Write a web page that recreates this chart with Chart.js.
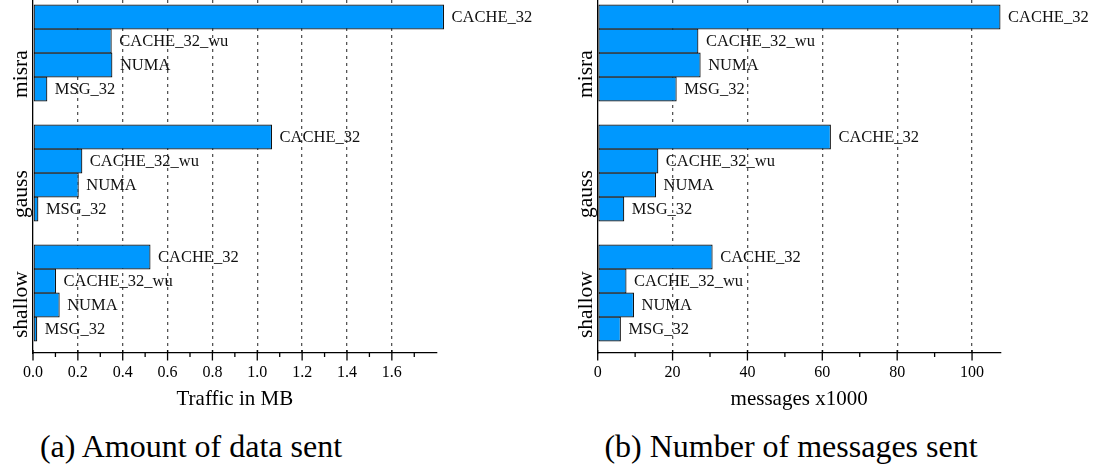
<!DOCTYPE html>
<html>
<head>
<meta charset="utf-8">
<script src="https://cdn.jsdelivr.net/npm/chart.js@4.4.0/dist/chart.umd.min.js"></script>
<style>
  body { margin: 0; background: #fff; width: 1099px; height: 466px; overflow: hidden; position: relative;
         font-family: 'Liberation Serif', 'Times New Roman', serif; }
  canvas { position: absolute; top: -7px; }
  #chartA { left: 0; }
  #chartB { left: 560px; }
  .caption { position: absolute; top: 430px; font-size: 32px; line-height: 1; white-space: nowrap;
             transform: translateX(-50%); color: #000; }
</style>
</head>
<body>
<canvas id="chartA" width="560" height="420"></canvas>
<canvas id="chartB" width="539" height="420"></canvas>
<div class="caption" style="left:191px">(a) Amount of data sent</div>
<div class="caption" style="left:791px">(b) Number of messages sent</div>
<script>
const categories = ['misra', 'gauss', 'shallow'];
const seriesNames = ['CACHE_32', 'CACHE_32_wu', 'NUMA', 'MSG_32'];

// traffic in MB (misra, gauss, shallow)
const trafficCache32 = [1.833, 1.066, 0.524];
const trafficCache32wu = [0.351, 0.220, 0.103];
const trafficNuma = [0.354, 0.204, 0.119];
const trafficMsg32 = [0.064, 0.024, 0.019];

// messages x1000 (misra, gauss, shallow)
const msgCache32 = [107.6, 62.3, 30.7];
const msgCache32wu = [26.9, 16.2, 7.7];
const msgNuma = [27.5, 15.6, 9.7];
const msgMsg32 = [21.1, 7.1, 6.2];

const trafficTicks = { max: 1.8, minor: 0.1, major: 0.2 };
const msgTicks = { max: 107.6, minor: 10, major: 20 };

Chart.defaults.font.family = "'Liberation Serif', 'Times New Roman', serif";
Chart.defaults.color = '#000';

const barColor = '#0098fe';

function isMajor(v, step) {
    const r = v / step;
    return Math.abs(r - Math.round(r)) < 1e-6;
}

const decorations = {
    id: 'decorations',
    afterDatasetsDraw(chart, args, opts) {
        const ctx = chart.ctx;
        const xs = chart.scales.x;
        const ys = chart.scales.y;
        const area = chart.chartArea;
        ctx.save();

        // series names next to each bar
        ctx.fillStyle = '#111';
        ctx.font = "16.5px 'Liberation Serif'";
        ctx.textAlign = 'left';
        ctx.textBaseline = 'middle';
        chart.data.datasets.forEach((ds, i) => {
            chart.getDatasetMeta(i).data.forEach(bar => {
                ctx.fillText(ds.label, bar.x + 7.5, bar.y + 1);
            });
        });

        // tick marks on the value axis
        ctx.strokeStyle = '#000';
        ctx.lineWidth = 1.3;
        xs.ticks.forEach(t => {
            if (t.value > opts.max - 1e-6) return;
            const px = xs.getPixelForValue(t.value);
            const major = isMajor(t.value, opts.major);
            ctx.beginPath();
            ctx.moveTo(px, area.bottom - (major ? 3 : 0));
            ctx.lineTo(px, area.bottom + (major ? 7.5 : 4));
            ctx.stroke();
        });

        // rotated group names
        ctx.fillStyle = '#000';
        ctx.font = "21.5px 'Liberation Serif'";
        ctx.textBaseline = 'alphabetic';
        const slot = (area.bottom - area.top) / categories.length;
        categories.forEach((name, i) => {
            const cy = ys.getPixelForValue(i);
            ctx.save();
            ctx.translate(area.left - 6, cy + slot * 0.4 - 3);
            ctx.rotate(-Math.PI / 2);
            ctx.fillText(name, 0, 0);
            ctx.restore();
        });
        ctx.restore();
    }
};

function makeChart(id, series, tickCfg, axisTitle, yWidth, padRight, fmt) {
    return new Chart(document.getElementById(id), {
        type: 'bar',
        data: {
            labels: categories,
            datasets: series.map((values, i) => ({
                label: seriesNames[i],
                data: values,
                backgroundColor: barColor,
                borderColor: '#111',
                borderWidth: 1.2,
                borderSkipped: false,
                barPercentage: 1.04,
                categoryPercentage: 0.8,
                clip: false
            }))
        },
        options: {
            indexAxis: 'y',
            responsive: false,
            animation: false,
            devicePixelRatio: 1,
            layout: { padding: { top: 0, right: padRight, bottom: 0, left: 0 } },
            plugins: {
                legend: { display: false },
                tooltip: { enabled: false },
                decorations: tickCfg
            },
            scales: {
                x: {
                    type: 'linear',
                    min: 0,
                    max: tickCfg.max,
                    ticks: {
                        stepSize: tickCfg.minor,
                        autoSkip: false,
                        maxRotation: 0,
                        includeBounds: false,
                        padding: 9.7,
                        font: { size: 16 },
                        color: '#000',
                        callback: v => (isMajor(v, tickCfg.major) && v < tickCfg.max - 1e-6) ? fmt(v) : ''
                    },
                    grid: {
                        drawTicks: false,
                        lineWidth: 1.3,
                        color: c => {
                            const v = c.tick ? c.tick.value : 0;
                            return (v > 0 && v < tickCfg.max - 1e-6 && isMajor(v, tickCfg.major)) ? '#555' : 'rgba(0,0,0,0)';
                        }
                    },
                    border: { display: true, color: '#000', width: 1.3, dash: [3, 4] },
                    title: { display: true, text: axisTitle, font: { size: 21 }, color: '#000', padding: { top: 0, bottom: 1 } },
                    afterFit: s => { s.height = 60; }
                },
                y: {
                    type: 'category',
                    ticks: { display: false },
                    grid: { display: false },
                    border: { display: true, color: '#000', width: 1.3 },
                    afterFit: s => { s.width = yWidth; }
                }
            }
        },
        plugins: [decorations]
    });
}

makeChart('chartA', [trafficCache32, trafficCache32wu, trafficNuma, trafficMsg32],
    trafficTicks, 'Traffic in MB', 33, 123.3, v => v.toFixed(1));
makeChart('chartB', [msgCache32, msgCache32wu, msgNuma, msgMsg32],
    msgTicks, 'messages x1000', 37.7, 98.5, v => String(Math.round(v)));
</script>
</body>
</html>
